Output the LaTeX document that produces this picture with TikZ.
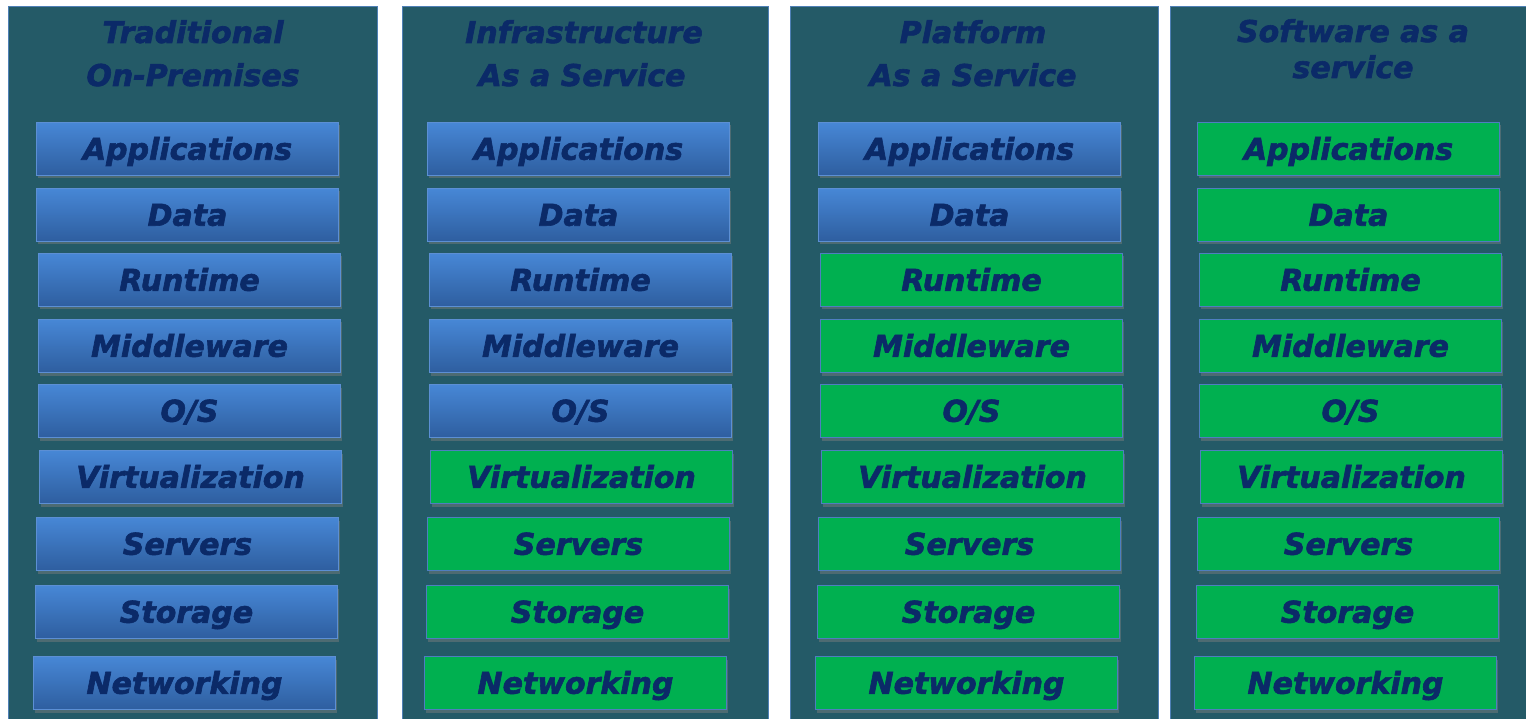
\documentclass[tikz,border=0pt]{standalone}
\usepackage{fontspec}
\setmainfont{DejaVu Sans}
\newfontfamily\heavyfont{DejaVu Sans Bold Oblique}[FakeBold=2]
\usetikzlibrary{shadows}
\definecolor{colbg}{HTML}{245A67}
\definecolor{coledge}{HTML}{4F80B6}
\definecolor{navy}{HTML}{0B2A68}
\definecolor{btop}{HTML}{4787D6}
\definecolor{bbot}{HTML}{2E5E9F}
\definecolor{bedge}{HTML}{5C8FD4}
\definecolor{gfill}{HTML}{00B050}
\definecolor{gedge}{HTML}{4F7EC0}
\tikzset{
  column/.style={draw=coledge, line width=1pt, fill=colbg, anchor=north west, minimum height=720pt, inner sep=0pt},
  layer/.style={anchor=north west, minimum width=302pt, minimum height=53pt, inner sep=0pt,
    text height=21.5pt, text depth=0pt, line width=1pt, text=navy,
    font=\heavyfont\fontsize{30}{34}\selectfont,
    drop shadow={shadow xshift=1.5pt, shadow yshift=-3pt, opacity=0.45}},
  bluebox/.style={layer, draw=bedge, top color=btop, bottom color=bbot},
  greenbox/.style={layer, draw=gedge, fill=gfill},
  ttl/.style={anchor=base, text=navy, inner sep=0pt, font=\heavyfont\fontsize{30}{36}\selectfont}
}
\begin{document}
\begin{tikzpicture}[x=1pt, y=-1pt]
\fill[white] (0,0) rectangle (1526,719);
\useasboundingbox (0,0) rectangle (1526,719);
% columns
\node[column, minimum width=369pt] (c1) at (8,6) {};
\node[column, minimum width=366pt] (c2) at (402,6) {};
\node[column, minimum width=368pt] (c3) at (790,6) {};
\node[column, minimum width=362pt] (c4) at (1170,6) {};
% titles
\node[ttl] (t1a) at (193,43) {Traditional};
\node[ttl] (t1b) at (193,86) {On-Premises};
\node[ttl] (t2a) at (584,43) {Infrastructure};
\node[ttl] (t2b) at (582,86) {As a Service};
\node[ttl] (t3a) at (973,43) {Platform};
\node[ttl] (t3b) at (973,86) {As a Service};
\node[ttl] (t4a) at (1353,42) {Software as a};
\node[ttl] (t4b) at (1353,78) {service};
% layers
\foreach \c/\xl/\ng in {1/36/10, 2/427/6, 3/818/3, 4/1197/1}{
  \foreach \r/\yt/\dx/\lbl in {1/122/0/Applications, 2/188/0/Data, 3/253/2/Runtime,
      4/319/2/Middleware, 5/384/2/{O/S}, 6/450/3/Virtualization, 7/517/0/Servers,
      8/585/-1/Storage, 9/656/-3/Networking}{
    \ifnum\r<\ng
      \node[bluebox] (b\c-\r) at (\xl+\dx,\yt) {\lbl};
    \else
      \node[greenbox] (b\c-\r) at (\xl+\dx,\yt) {\lbl};
    \fi
  }
}
\end{tikzpicture}
\end{document}
